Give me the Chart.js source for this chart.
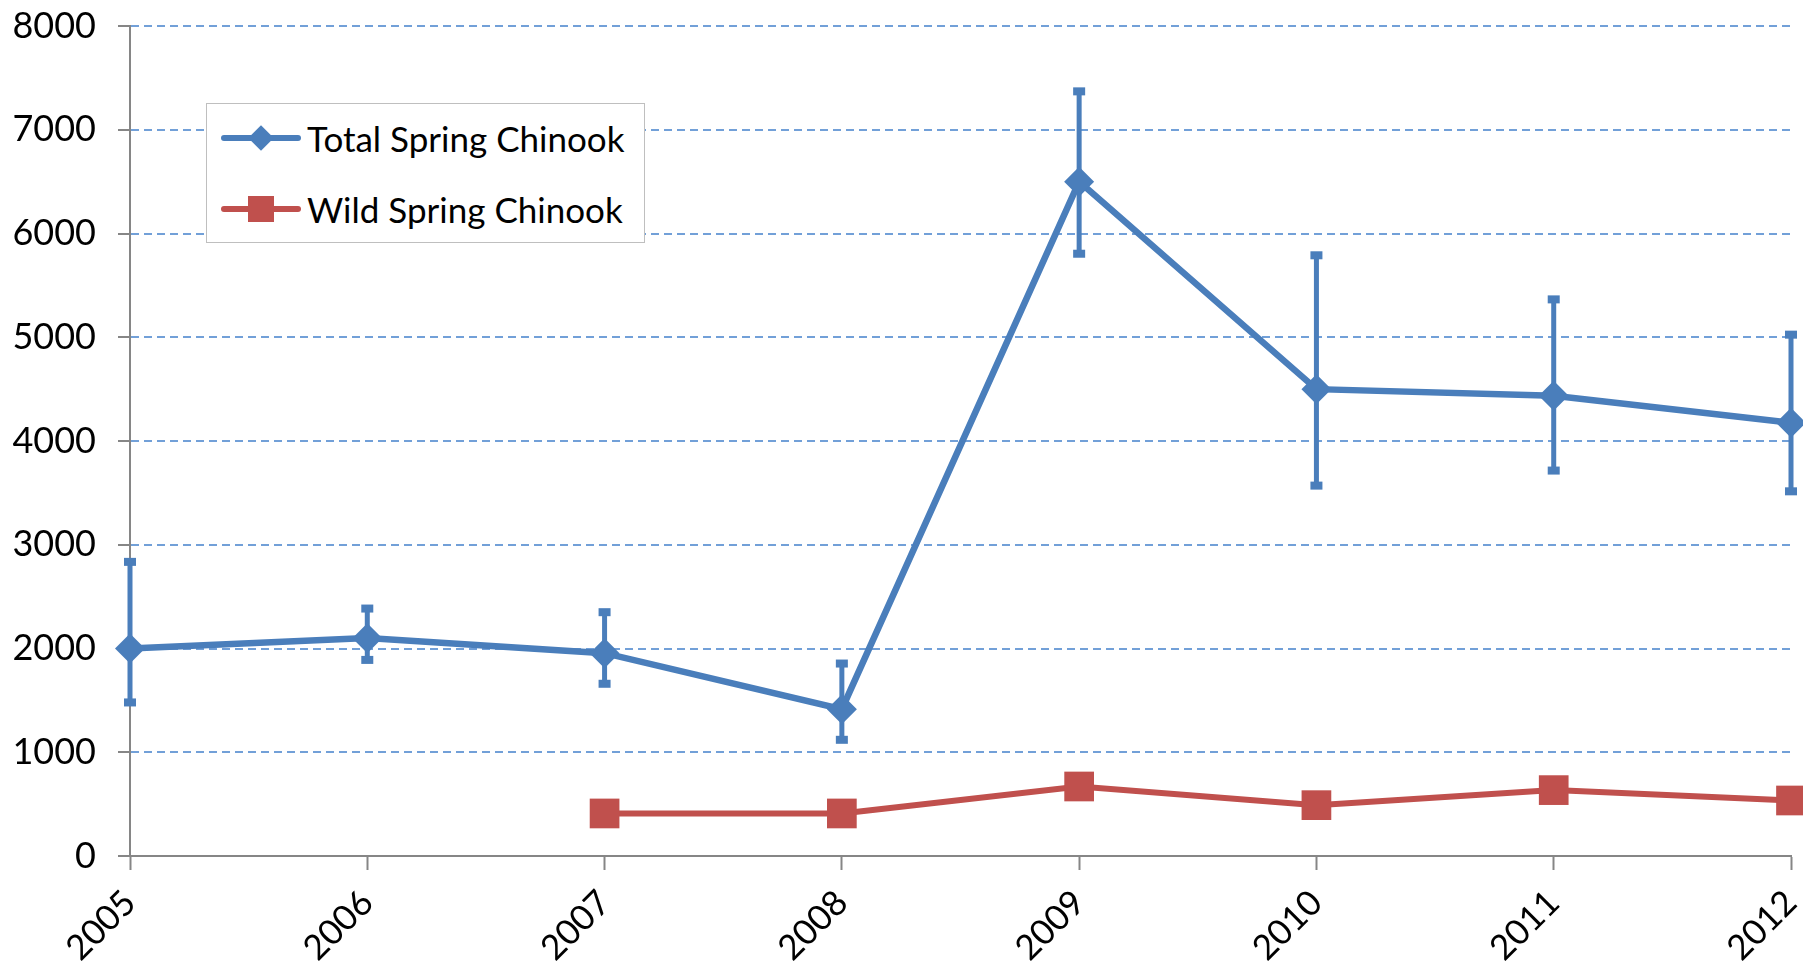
<!DOCTYPE html>
<html>
<head>
<meta charset="utf-8">
<script src="https://cdn.jsdelivr.net/npm/chart.js@4.4.1/dist/chart.umd.min.js"></script>
<style>
  html, body { margin: 0; background: #fff; overflow: hidden; }
  #wrap { position: relative; width: 1803px; height: 961px; overflow: hidden; }
  #chart { display: block; }
  #legend {
    position: absolute; left: 206px; top: 103px; width: 437px; height: 138px;
    border: 1px solid #bfbfbf; background: #fff;
    font-family: Lato, sans-serif; font-size: 35px; color: #000;
  }
  .row { position: absolute; left: 0; height: 40px; display: flex; align-items: center; }
  .sample { position: relative; width: 80px; height: 40px; margin-left: 14px; margin-right: 6px; }
  .sample .ln { position: absolute; left: 0; right: 0; top: 17px; height: 6px; border-radius: 3px; }
  .sample .mk { position: absolute; }
</style>
</head>
<body>
<div id="wrap">
  <canvas id="chart" width="1803" height="961"></canvas>
  <div id="legend">
    <div class="row" style="top:14px">
      <div class="sample"><div class="ln" style="background:#4a7ebb"></div>
        <div class="mk" style="left:31px;top:11px;width:18px;height:18px;background:#4a7ebb;transform:rotate(45deg)"></div></div>
      <span>Total Spring Chinook</span>
    </div>
    <div class="row" style="top:85px">
      <div class="sample"><div class="ln" style="background:#c0504d"></div>
        <div class="mk" style="left:27px;top:7px;width:26px;height:26px;background:#c0504d"></div></div>
      <span>Wild Spring Chinook</span>
    </div>
  </div>
</div>
<script>
const years = ['2005', '2006', '2007', '2008', '2009', '2010', '2011', '2012'];
const totalChinook = [2000, 2100, 1955, 1415, 6500, 4500, 4435, 4175];
const totalUpper = [2835, 2385, 2350, 1855, 7370, 5790, 5365, 5025];
const totalLower = [1480, 1890, 1660, 1120, 5805, 3570, 3715, 3515];
const wildChinook = [null, null, 410, 410, 670, 490, 635, 535];
const yTicks = [0, 1000, 2000, 3000, 4000, 5000, 6000, 7000, 8000];

const blue = '#4a7ebb';
const red = '#c0504d';
const axisGray = '#868686';

// error bars for the total series, drawn through the scales
const errorBars = {
	id: 'errorBars',
	beforeDatasetsDraw(chart) {
		const { ctx, scales: { x, y } } = chart;
		ctx.save();
		ctx.strokeStyle = blue;
		ctx.fillStyle = blue;
		ctx.lineWidth = 5;
		totalChinook.forEach((v, i) => {
			const px = x.getPixelForValue(i);
			const top = y.getPixelForValue(totalUpper[i]);
			const bot = y.getPixelForValue(totalLower[i]);
			ctx.beginPath();
			ctx.moveTo(px, top);
			ctx.lineTo(px, bot);
			ctx.stroke();
			ctx.fillRect(px - 6, top - 4, 12, 8);
			ctx.fillRect(px - 6, bot - 4, 12, 8);
		});
		ctx.restore();
	},
};

const chart = new Chart(document.getElementById('chart'), {
	type: 'line',
	data: {
		labels: years,
		datasets: [
			{
				label: 'Total Spring Chinook',
				data: totalChinook,
				borderColor: blue,
				backgroundColor: blue,
				borderWidth: 6.5,
				pointStyle: 'rectRot',
				pointRadius: 15,
				pointBorderWidth: 0,
				pointBackgroundColor: blue,
				tension: 0,
				clip: false,
			},
			{
				label: 'Wild Spring Chinook',
				data: wildChinook,
				borderColor: red,
				backgroundColor: red,
				borderWidth: 6,
				pointStyle: 'rect',
				pointRadius: 21,
				pointBorderWidth: 0,
				pointBackgroundColor: red,
				tension: 0,
				spanGaps: false,
				clip: false,
			},
		],
	},
	options: {
		responsive: false,
		animation: false,
		layout: {
			autoPadding: false, // markers may run off the edge, as in the original
			padding: { top: 26, right: 12, left: 0, bottom: 0 },
		},
		plugins: {
			legend: { display: false },
			tooltip: { enabled: false },
		},
		scales: {
			x: {
				offset: false,
				grid: {
					drawOnChartArea: false,
					tickLength: 14,
					tickColor: axisGray,
					tickWidth: 2,
				},
				border: { color: axisGray, width: 2 },
				ticks: {
					minRotation: 45,
					maxRotation: 45,
					padding: 12,
					color: '#000',
					font: { family: 'Lato', size: 35 },
				},
				afterFit: (s) => {
					s.height = 105;
					s.paddingLeft = 0;
					s.paddingRight = 0;
				},
			},
			y: {
				min: 0,
				max: 8000,
				afterBuildTicks: (s) => { s.ticks = yTicks.map((v) => ({ value: v })); },
				grid: {
					color: (c) => (c.tick && c.tick.value === 0 ? 'rgba(0,0,0,0)' : '#72a0d8'),
					lineWidth: 2,
					tickLength: 12,
					tickColor: axisGray,
					tickWidth: 2,
					tickBorderDash: [],
				},
				border: { color: axisGray, width: 2, dash: [8, 5] },
				ticks: {
					padding: 22,
					color: '#000',
					font: { family: 'Lato', size: 36 },
					callback: (v) => String(v),
				},
				afterFit: (s) => {
					s.width = 130;
					s.paddingTop = 0;
					s.paddingBottom = 0;
				},
			},
		},
	},
	plugins: [errorBars],
});
</script>
</body>
</html>
